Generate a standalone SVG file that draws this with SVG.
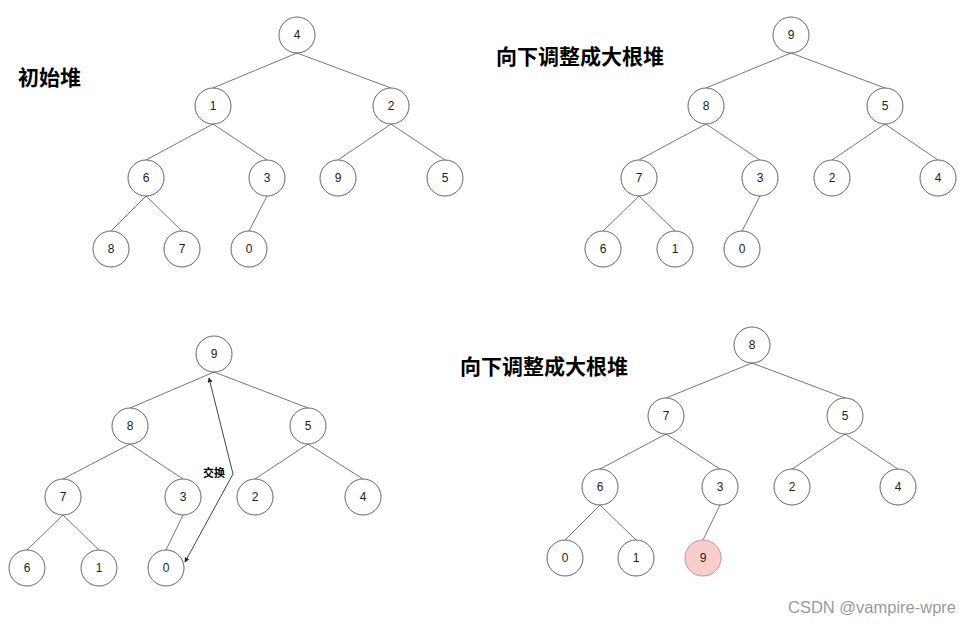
<svg xmlns="http://www.w3.org/2000/svg" width="972" height="626" viewBox="0 0 972 626">
<style>
.n circle{fill:#fff;stroke:#666;stroke-width:1}
.n text{font-family:"Liberation Sans",Arial,sans-serif;font-size:12px;fill:#222;text-anchor:middle}
.hl circle{fill:#f8cecc;stroke:#d08e8b}
.e line{stroke:#777;stroke-width:1}
.title{font-family:"Noto Sans CJK SC","Noto Sans",sans-serif;font-weight:bold;font-size:21px;fill:#000}
.lbl{font-family:"Noto Sans CJK SC","Noto Sans",sans-serif;font-weight:bold;font-size:11px;fill:#000}
.wm{font-family:"Liberation Sans",Arial,sans-serif;font-size:16.5px;fill:#9a9a9a}
</style>
<defs>
<marker id="ah" viewBox="0 0 8 8" refX="7" refY="4" markerWidth="5" markerHeight="5" orient="auto-start-reverse" markerUnits="userSpaceOnUse">
<path d="M0,0 L8,4 L0,8 z" fill="#222"/>
</marker>
</defs>
<rect width="972" height="626" fill="#fff"/>

<text class="title" x="18" y="85">初始堆</text>
<text class="title" x="496" y="64">向下调整成大根堆</text>
<text class="title" x="460" y="374">向下调整成大根堆</text>

<g id="connectors" class="e">
<!-- top-left -->
<line x1="297" y1="53" x2="213" y2="88"/>
<line x1="297" y1="53" x2="391" y2="88"/>
<line x1="213" y1="124" x2="146" y2="160"/>
<line x1="213" y1="124" x2="267" y2="160"/>
<line x1="391" y1="124" x2="338" y2="160"/>
<line x1="391" y1="124" x2="445" y2="160"/>
<line x1="146" y1="196" x2="111" y2="231"/>
<line x1="146" y1="196" x2="182" y2="231"/>
<line x1="267" y1="196" x2="249" y2="231"/>
<!-- top-right -->
<line x1="791" y1="53" x2="706" y2="88"/>
<line x1="791" y1="53" x2="885" y2="88"/>
<line x1="706" y1="124" x2="639" y2="160"/>
<line x1="706" y1="124" x2="760" y2="160"/>
<line x1="885" y1="124" x2="832" y2="160"/>
<line x1="885" y1="124" x2="938" y2="160"/>
<line x1="639" y1="196" x2="603" y2="231"/>
<line x1="639" y1="196" x2="675" y2="231"/>
<line x1="760" y1="196" x2="742" y2="231"/>
<!-- bottom-left -->
<line x1="214" y1="372" x2="130" y2="408"/>
<line x1="214" y1="372" x2="308" y2="408"/>
<line x1="130" y1="444" x2="63" y2="479"/>
<line x1="130" y1="444" x2="183" y2="479"/>
<line x1="308" y1="444" x2="255" y2="479"/>
<line x1="308" y1="444" x2="363" y2="479"/>
<line x1="63" y1="515" x2="27" y2="550"/>
<line x1="63" y1="515" x2="99" y2="550"/>
<line x1="183" y1="515" x2="166" y2="550"/>
<!-- bottom-right -->
<line x1="752" y1="363" x2="666" y2="398"/>
<line x1="752" y1="363" x2="845" y2="398"/>
<line x1="666" y1="434" x2="600" y2="469"/>
<line x1="666" y1="434" x2="720" y2="469"/>
<line x1="845" y1="434" x2="792" y2="469"/>
<line x1="845" y1="434" x2="898" y2="469"/>
<line x1="600" y1="505" x2="565" y2="540"/>
<line x1="600" y1="505" x2="636" y2="540"/>
<line x1="720" y1="505" x2="703" y2="540"/>
<!-- swap -->
<polyline points="209,378 233,474 185,562" fill="none" stroke="#444" stroke-width="1" marker-start="url(#ah)" marker-end="url(#ah)"/>
</g>
<text class="lbl" x="203" y="477">交换</text>

<!-- top-left tree -->
<g id="a4" class="n"><circle cx="297" cy="35" r="18"/><text x="297" y="39">4</text></g>
<g id="a1" class="n"><circle cx="213" cy="106" r="18"/><text x="213" y="110">1</text></g>
<g id="a2" class="n"><circle cx="391" cy="106" r="18"/><text x="391" y="110">2</text></g>
<g id="a6" class="n"><circle cx="146" cy="178" r="18"/><text x="146" y="182">6</text></g>
<g id="a3" class="n"><circle cx="267" cy="178" r="18"/><text x="267" y="182">3</text></g>
<g id="a9" class="n"><circle cx="338" cy="178" r="18"/><text x="338" y="182">9</text></g>
<g id="a5" class="n"><circle cx="445" cy="178" r="18"/><text x="445" y="182">5</text></g>
<g id="a8" class="n"><circle cx="111" cy="249" r="18"/><text x="111" y="253">8</text></g>
<g id="a7" class="n"><circle cx="182" cy="249" r="18"/><text x="182" y="253">7</text></g>
<g id="a0" class="n"><circle cx="249" cy="249" r="18"/><text x="249" y="253">0</text></g>

<!-- top-right tree -->
<g id="b9" class="n"><circle cx="791" cy="35" r="18"/><text x="791" y="39">9</text></g>
<g id="b8" class="n"><circle cx="706" cy="106" r="18"/><text x="706" y="110">8</text></g>
<g id="b5" class="n"><circle cx="885" cy="106" r="18"/><text x="885" y="110">5</text></g>
<g id="b7" class="n"><circle cx="639" cy="178" r="18"/><text x="639" y="182">7</text></g>
<g id="b3" class="n"><circle cx="760" cy="178" r="18"/><text x="760" y="182">3</text></g>
<g id="b2" class="n"><circle cx="832" cy="178" r="18"/><text x="832" y="182">2</text></g>
<g id="b4" class="n"><circle cx="938" cy="178" r="18"/><text x="938" y="182">4</text></g>
<g id="b6" class="n"><circle cx="603" cy="249" r="18"/><text x="603" y="253">6</text></g>
<g id="b1" class="n"><circle cx="675" cy="249" r="18"/><text x="675" y="253">1</text></g>
<g id="b0" class="n"><circle cx="742" cy="249" r="18"/><text x="742" y="253">0</text></g>

<!-- bottom-left tree -->
<g id="c9" class="n"><circle cx="214" cy="354" r="18"/><text x="214" y="358">9</text></g>
<g id="c8" class="n"><circle cx="130" cy="426" r="18"/><text x="130" y="430">8</text></g>
<g id="c5" class="n"><circle cx="308" cy="426" r="18"/><text x="308" y="430">5</text></g>
<g id="c7" class="n"><circle cx="63" cy="497" r="18"/><text x="63" y="501">7</text></g>
<g id="c3" class="n"><circle cx="183" cy="497" r="18"/><text x="183" y="501">3</text></g>
<g id="c2" class="n"><circle cx="255" cy="497" r="18"/><text x="255" y="501">2</text></g>
<g id="c4" class="n"><circle cx="363" cy="497" r="18"/><text x="363" y="501">4</text></g>
<g id="c6" class="n"><circle cx="27" cy="568" r="18"/><text x="27" y="572">6</text></g>
<g id="c1" class="n"><circle cx="99" cy="568" r="18"/><text x="99" y="572">1</text></g>
<g id="c0" class="n"><circle cx="166" cy="568" r="18"/><text x="166" y="572">0</text></g>

<!-- bottom-right tree -->
<g id="d8" class="n"><circle cx="752" cy="345" r="18"/><text x="752" y="349">8</text></g>
<g id="d7" class="n"><circle cx="666" cy="416" r="18"/><text x="666" y="420">7</text></g>
<g id="d5" class="n"><circle cx="845" cy="416" r="18"/><text x="845" y="420">5</text></g>
<g id="d6" class="n"><circle cx="600" cy="487" r="18"/><text x="600" y="491">6</text></g>
<g id="d3" class="n"><circle cx="720" cy="487" r="18"/><text x="720" y="491">3</text></g>
<g id="d2" class="n"><circle cx="792" cy="487" r="18"/><text x="792" y="491">2</text></g>
<g id="d4" class="n"><circle cx="898" cy="487" r="18"/><text x="898" y="491">4</text></g>
<g id="d0" class="n"><circle cx="565" cy="558" r="18"/><text x="565" y="562">0</text></g>
<g id="d1" class="n"><circle cx="636" cy="558" r="18"/><text x="636" y="562">1</text></g>
<g id="d9" class="n hl"><circle cx="703" cy="558" r="18"/><text x="703" y="562">9</text></g>

<text class="wm" x="788" y="613">CSDN @vampire-wpre</text>
</svg>
